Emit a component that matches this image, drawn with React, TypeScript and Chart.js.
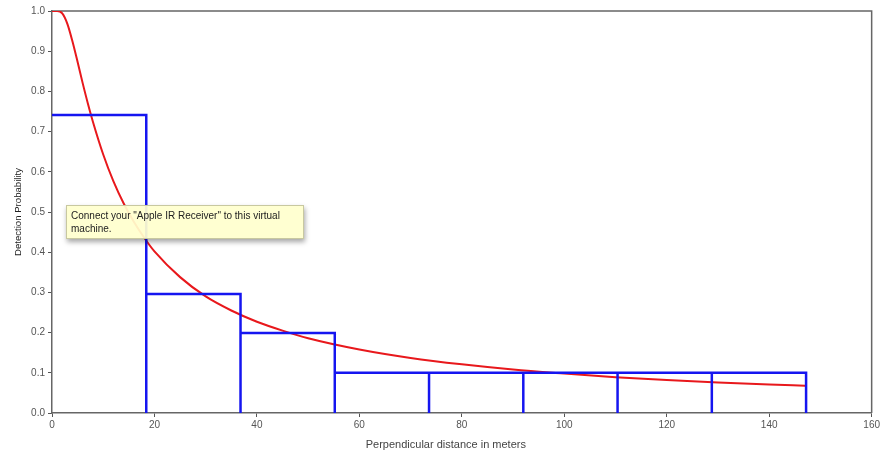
import React, { useEffect, useRef } from "react";
import { Chart, registerables } from "chart.js";

Chart.register(...registerables);

// Histogram bins (perpendicular distance, m) and observed detection proportions
const binEdges = [0, 18.4, 36.8, 55.2, 73.6, 92, 110.4, 128.8, 147.2];
const binHeights = [0.741, 0.296, 0.199, 0.1, 0.1, 0.1, 0.1, 0.1];

// Fitted detection curve
const curveX = [0, 1, 2, 3, 4, 5, 6, 7, 8, 10, 12, 14, 16, 18, 20, 25, 30, 35, 40, 45, 50, 60, 70, 80, 90, 100, 110, 120, 130, 140, 147];
const curveY = [1.0, 1.0, 0.994, 0.968, 0.924, 0.873, 0.82, 0.77, 0.724, 0.643, 0.576, 0.521, 0.475, 0.436, 0.402, 0.338, 0.29, 0.255, 0.227, 0.205, 0.186, 0.158, 0.137, 0.121, 0.108, 0.098, 0.089, 0.082, 0.076, 0.071, 0.068];

const xTicks = [0, 20, 40, 60, 80, 100, 120, 140, 160];
const yTicks = [0, 0.1, 0.2, 0.3, 0.4, 0.5, 0.6, 0.7, 0.8, 0.9, 1.0];

const xTitle = "Perpendicular distance in meters";
const yTitle = "Detection Probability";
const noteText = 'Connect your "Apple IR Receiver" to this virtual machine.';

export default function App() {
  const ref = useRef<HTMLCanvasElement | null>(null);

  useEffect(() => {
    document.body.style.margin = "0";
    if (!ref.current) return;

    const histPts: { x: number; y: number }[] = [];
    for (let i = 0; i < binHeights.length; i++) {
      if (i > 0) histPts.push({ x: binEdges[i], y: 0 });
      histPts.push({ x: binEdges[i], y: binHeights[i] });
      histPts.push({ x: binEdges[i + 1], y: binHeights[i] });
    }
    histPts.push({ x: binEdges[binEdges.length - 1], y: 0 });

    const curvePts = curveX.map((x, i) => ({ x, y: curveY[i] }));

    const frame = {
      id: "frame",
      beforeDatasetsDraw(chart: any) {
        const { ctx, chartArea: a } = chart;
        ctx.save();
        ctx.strokeStyle = "#666";
        ctx.lineWidth = 1.5;
        ctx.beginPath();
        ctx.moveTo(a.left, a.top);
        ctx.lineTo(a.right, a.top);
        ctx.lineTo(a.right, a.bottom);
        ctx.stroke();
        // x-axis title, slightly left of centre as in the original
        ctx.fillStyle = "#444";
        ctx.font = "11px 'Liberation Sans', Arial, sans-serif";
        ctx.textAlign = "center";
        ctx.textBaseline = "middle";
        ctx.fillText(xTitle, (a.left + a.right) / 2 - 16, 445);
        ctx.restore();
      },
    };

    const tickFont = { family: "'Liberation Sans', Arial, sans-serif", size: 10 };

    const chart = new Chart(ref.current, {
      type: "line",
      data: {
        datasets: [
          {
            data: histPts,
            borderColor: "#1515f0",
            borderWidth: 2.5,
            pointRadius: 0,
            tension: 0,
            fill: false,
          },
          {
            data: curvePts,
            borderColor: "#e8181c",
            borderWidth: 2,
            pointRadius: 0,
            cubicInterpolationMode: "monotone",
            fill: false,
          },
        ],
      },
      options: {
        animation: false,
        responsive: false,
        layout: { padding: { top: 11, right: 9, left: 0, bottom: 0 } },
        plugins: { legend: { display: false }, tooltip: { enabled: false } },
        scales: {
          x: {
            type: "linear",
            min: 0,
            max: 160,
            afterBuildTicks: (s: any) => {
              s.ticks = xTicks.map((v) => ({ value: v }));
            },
            afterFit: (s: any) => {
              s.height = 40;
            },
            ticks: { color: "#555", font: tickFont, padding: 2 },
            grid: { drawOnChartArea: false, color: "#555", tickLength: 4 },
            border: { color: "#666", width: 1.5 },
            title: { display: false },
          },
          y: {
            type: "linear",
            min: 0,
            max: 1,
            afterBuildTicks: (s: any) => {
              s.ticks = yTicks.map((v) => ({ value: v }));
            },
            afterFit: (s: any) => {
              s.width = 52;
            },
            ticks: {
              color: "#555",
              font: tickFont,
              padding: 3,
              callback: (v: any) => Number(v).toFixed(1),
            },
            grid: { drawOnChartArea: false, color: "#555", tickLength: 4 },
            border: { color: "#666", width: 1.5 },
            title: {
              display: true,
              text: yTitle,
              color: "#222",
              font: { family: "'Liberation Sans', Arial, sans-serif", size: 9.6 },
              padding: { top: 13, bottom: 0 },
            },
          },
        },
      },
      plugins: [frame],
    } as any);

    return () => chart.destroy();
  }, []);

  return (
    <div style={{ position: "relative", width: 882, height: 453, background: "#fff" }}>
      <canvas ref={ref} width={882} height={453} style={{ display: "block" }} />
      <div
        style={{
          position: "absolute",
          left: 66,
          top: 205,
          width: 228,
          padding: "3px 4px",
          background: "rgba(255,255,205,0.93)",
          border: "1px solid #c8c8a0",
          boxShadow: "1px 3px 5px rgba(0,0,0,0.35)",
          fontFamily: "'Liberation Sans', Arial, sans-serif",
          fontSize: 10,
          lineHeight: "13px",
          color: "#222",
        }}
      >
        {noteText}
      </div>
    </div>
  );
}
